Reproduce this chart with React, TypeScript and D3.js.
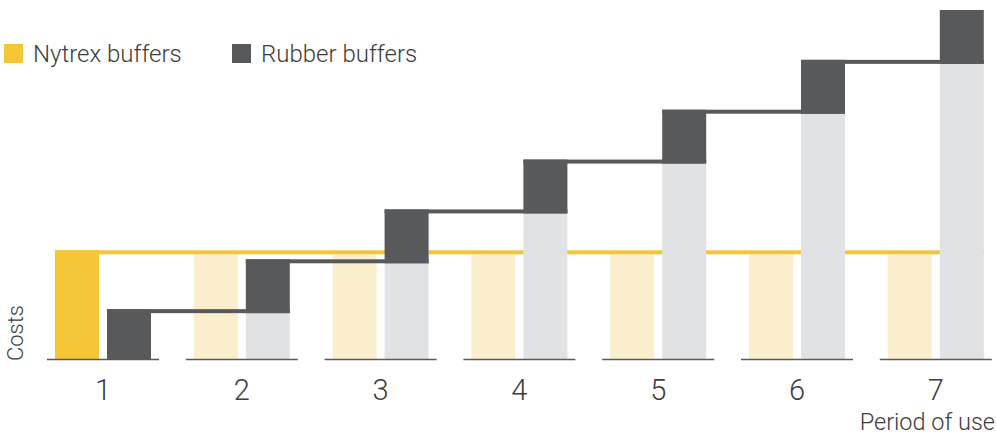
import React from 'react';
import * as d3 from 'd3';

const width = 996;
const height = 437;

const periods = ['1', '2', '3', '4', '5', '6', '7'];
const seriesKeys = ['nytrex', 'rubber'];
const seriesLabels = ['Nytrex buffers', 'Rubber buffers'];
// cost spent in each period (arbitrary units)
const nytrexSpend = [2.18, 0, 0, 0, 0, 0, 0];
const rubberSpend = [1, 1, 1, 1, 1, 1, 1];

const yellow = '#F4C534';
const paleYellow = '#FBEECD';
const dark = '#58595B';
const paleGray = '#E1E2E4';
const textColor = '#3C3C3E';
const lineW = 4;
const font = 'Roboto, "DejaVu Sans", sans-serif';

const baseY = 359;

const x = d3
  .scaleBand<string>()
  .domain(periods)
  .range([47, 991.8])
  .paddingInner(0.193)
  .paddingOuter(0);

const x1 = d3
  .scaleBand<string>()
  .domain(seriesKeys)
  .range([0, x.bandwidth()])
  .paddingInner(8 / 52)
  .paddingOuter(8 / 52);

const nytrexCum = Array.from(d3.cumsum(nytrexSpend));
const rubberCum = Array.from(d3.cumsum(rubberSpend));

const y = d3
  .scaleLinear()
  .domain([0, d3.max([...nytrexCum, ...rubberCum]) as number])
  .range([baseY, 10]);

const Bars = ({ k, cum, full, pale }: { k: string; cum: number[]; full: string; pale: string }) => {
  const bw = x1.bandwidth();
  return (
    <g>
      {periods.map((p, i) => {
        const bx = (x(p) as number) + (x1(k) as number);
        const total = cum[i];
        const prev = i > 0 ? cum[i - 1] : 0;
        const paleTop = i > 0 ? y(prev) + lineW : baseY;
        return (
          <g key={p}>
            {i > 0 && <rect x={bx} y={paleTop} width={bw} height={baseY - paleTop} fill={pale} />}
            {total > prev && (
              <rect x={bx} y={y(total)} width={bw} height={paleTop - y(total)} fill={full} />
            )}
          </g>
        );
      })}
    </g>
  );
};

const App = () => {
  const bw = x1.bandwidth();
  const nx0 = (x(periods[0]) as number) + (x1('nytrex') as number);
  const nxe = (x(periods[periods.length - 1]) as number) + (x1('rubber') as number) + bw;

  return (
    <svg
      width={width}
      height={height}
      style={{ position: 'absolute', left: 0, top: 0 }}
      fontFamily={font}
    >
      <Bars k="nytrex" cum={nytrexCum} full={yellow} pale={paleYellow} />

      {/* nytrex level line */}
      <rect x={nx0} y={y(nytrexCum[0])} width={nxe - nx0} height={lineW} fill={yellow} />

      <Bars k="rubber" cum={rubberCum} full={dark} pale={paleGray} />

      {/* rubber step connectors */}
      {periods.slice(0, -1).map((p, i) => {
        const x0 = (x(p) as number) + (x1('rubber') as number);
        const xn = (x(periods[i + 1]) as number) + (x1('rubber') as number);
        return (
          <rect key={p} x={x0} y={y(rubberCum[i])} width={xn - x0 + bw} height={lineW} fill={dark} />
        );
      })}

      {/* axis segments and tick labels */}
      {periods.map(p => (
        <g key={p}>
          <line
            x1={x(p) as number}
            x2={(x(p) as number) + x.bandwidth()}
            y1={baseY + 0.5}
            y2={baseY + 0.5}
            stroke={dark}
            strokeWidth={1.5}
          />
          <text
            x={(x(p) as number) + x.bandwidth() / 2}
            y={400}
            textAnchor="middle"
            fontSize={29}
            fontWeight={300}
            fill={textColor}
          >
            {p}
          </text>
        </g>
      ))}

      <text x={995} y={430} textAnchor="end" fontSize={23.5} fontWeight={300} fill={textColor}>
        Period of use
      </text>
      <text
        transform={`translate(23,333) rotate(-90)`}
        textAnchor="middle"
        fontSize={22}
        fontWeight={300}
        fill={textColor}
      >
        Costs
      </text>

      {/* legend */}
      {seriesLabels.map((label, i) => {
        const lx = i === 0 ? 4 : 232;
        return (
          <g key={label}>
            <rect x={lx} y={44} width={19} height={19} fill={i === 0 ? yellow : dark} />
            <text x={lx + 29} y={62} fontSize={24} fontWeight={300} fill={textColor}>
              {label}
            </text>
          </g>
        );
      })}
    </svg>
  );
};

export default App;
